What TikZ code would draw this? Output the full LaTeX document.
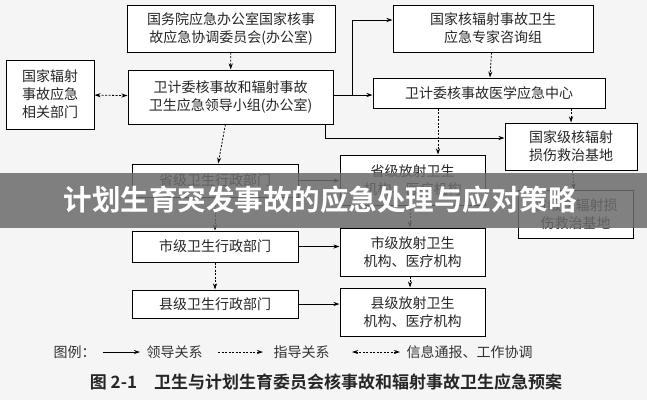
\documentclass[tikz,border=0pt]{standalone}
\usepackage{fontspec}
\newfontfamily\cjk{Noto Sans CJK SC}
\newfontfamily\cjkb{Noto Sans CJK SC Bold}
\usetikzlibrary{arrows.meta}
\tikzset{
  box/.style={draw, line width=1pt, fill=white, align=center, inner sep=1pt,
    font=\cjk\fontsize{14}{18}\selectfont, text=black!85},
  legend/.style={font=\cjk\fontsize{14}{16}\selectfont, text=black!80},
  lead/.style={line width=0.8pt, -{Stealth[length=6pt,width=4pt]}},
  guide/.style={lead, dashed, dash pattern=on 2pt off 1.5pt},
  info/.style={guide, {Stealth[length=6pt,width=4pt]}-{Stealth[length=6pt,width=4pt]}}
}
\begin{document}
\begin{tikzpicture}[x=1pt,y=-1pt]
      \fill[black!4] (0,0) rectangle (647,400);
      \useasboundingbox (0,0) rectangle (647,400);

      % boxes
      \node[box, minimum width=208, minimum height=47] (gwy) at (231,28.5) {国务院应急办公室国家核事\\故应急协调委员会(办公室)};
      \node[box, minimum width=200, minimum height=47] (zjz) at (493,28.5) {国家核辐射事故卫生\\应急专家咨询组};
      \node[box, minimum width=88, minimum height=69] (xgbm) at (50,94.5) {国家辐射\\事故应急\\相关部门};
      \node[box, minimum width=205, minimum height=54] (ldxz) at (230.5,97) {卫计委核事故和辐射事故\\卫生应急领导小组(办公室)};
      \node[box, minimum width=232, minimum height=30] (yjzx) at (489,93) {卫计委核事故医学应急中心};
      \node[box, minimum width=132, minimum height=47] (gjjd) at (571,146.5) {国家级核辐射\\损伤救治基地};
      \node[box, minimum width=166, minimum height=33] (sjxz) at (215,180.5) {省级卫生行政部门};
      \node[box, minimum width=145, minimum height=50] (sjjg) at (412.5,180) {省级放射卫生\\机构、医疗机构};
      \node[box, minimum width=115, minimum height=48] (sjjd) at (575.5,214) {省级核辐射损\\伤救治基地};
      \node[box, minimum width=166, minimum height=31] (shixz) at (215,246.5) {市级卫生行政部门};
      \node[box, minimum width=145, minimum height=48] (shijg) at (412.5,252) {市级放射卫生\\机构、医疗机构};
      \node[box, minimum width=166, minimum height=28] (xjxz) at (215,304) {县级卫生行政部门};
      \node[box, minimum width=145, minimum height=48] (xjjg) at (412.5,312) {县级放射卫生\\机构、医疗机构};

      % connectors
      \draw[guide] (gwy) -- (ldxz);
      \draw[info] (xgbm) -- (ldxz);
      \draw[lead] (ldxz.east) ++(0,-2) coordinate (l1) -| (352,20) -- (zjz.west |- 0,20);
      \draw[lead] (l1) -- (l1 -| yjzx.west);
      \draw[guide] (zjz) -- (yjzx);
      \draw[guide] (yjzx.south -| gjjd) -- (gjjd);
      \draw[lead] (ldxz.south -| 325,0) |- (gjjd.west |- 0,138);
      \draw[guide] (yjzx.south -| 438,0) -- (sjjg.north -| 438,0);
      \draw[guide] (ldxz) -- (sjxz);
      \draw[guide] (sjxz) -- (shixz);
      \draw[guide] (shixz) -- (xjxz);
      \draw[lead] (sjxz.east) -- (sjxz.east -| sjjg.west);
      \draw[lead] (shixz.east) -- (shixz.east -| shijg.west);
      \draw[lead] (xjxz.east) -- (xjxz.east -| xjjg.west);
      \draw[guide] (sjjg.south -| 410,0) -- (shijg.north -| 410,0);
      \draw[guide] (shijg.south -| 410,0) -- (xjjg.north -| 410,0);
      \draw[guide] (gjjd) -- (sjjd);

      % legend
      \node[legend, right] (lg) at (50,352) {图例：};
      \coordinate (a1) at (103,352);
      \coordinate (a2) at (140,352);
      \draw[lead] (a1) -- (a2);
      \node[legend, right] (lg1) at (143,352) {领导关系};
      \coordinate (b1) at (218,352);
      \coordinate (b2) at (263,352);
      \draw[guide] (b1) -- (b2);
      \node[legend, right] (lg2) at (270,352) {指导关系};
      \coordinate (c1) at (352,352);
      \coordinate (c2) at (400,352);
      \draw[info] (c1) -- (c2);
      \node[legend, right] (lg3) at (403,352) {信息通报、工作协调};
      \node[font=\cjkb\fontsize{17}{20}\selectfont, text=black!85] (cap) at (326,382) {图 2-1\quad 卫生与计划生育委员会核事故和辐射事故卫生应急预案};

      % banner
      \fill[black!58, opacity=0.85] (0,173) rectangle (647,228);
      \node[font=\cjkb\fontsize{28.5}{30}\selectfont, text=white] (ban) at (320,200) {计划生育突发事故的应急处理与应对策略};
\end{tikzpicture}
\end{document}
